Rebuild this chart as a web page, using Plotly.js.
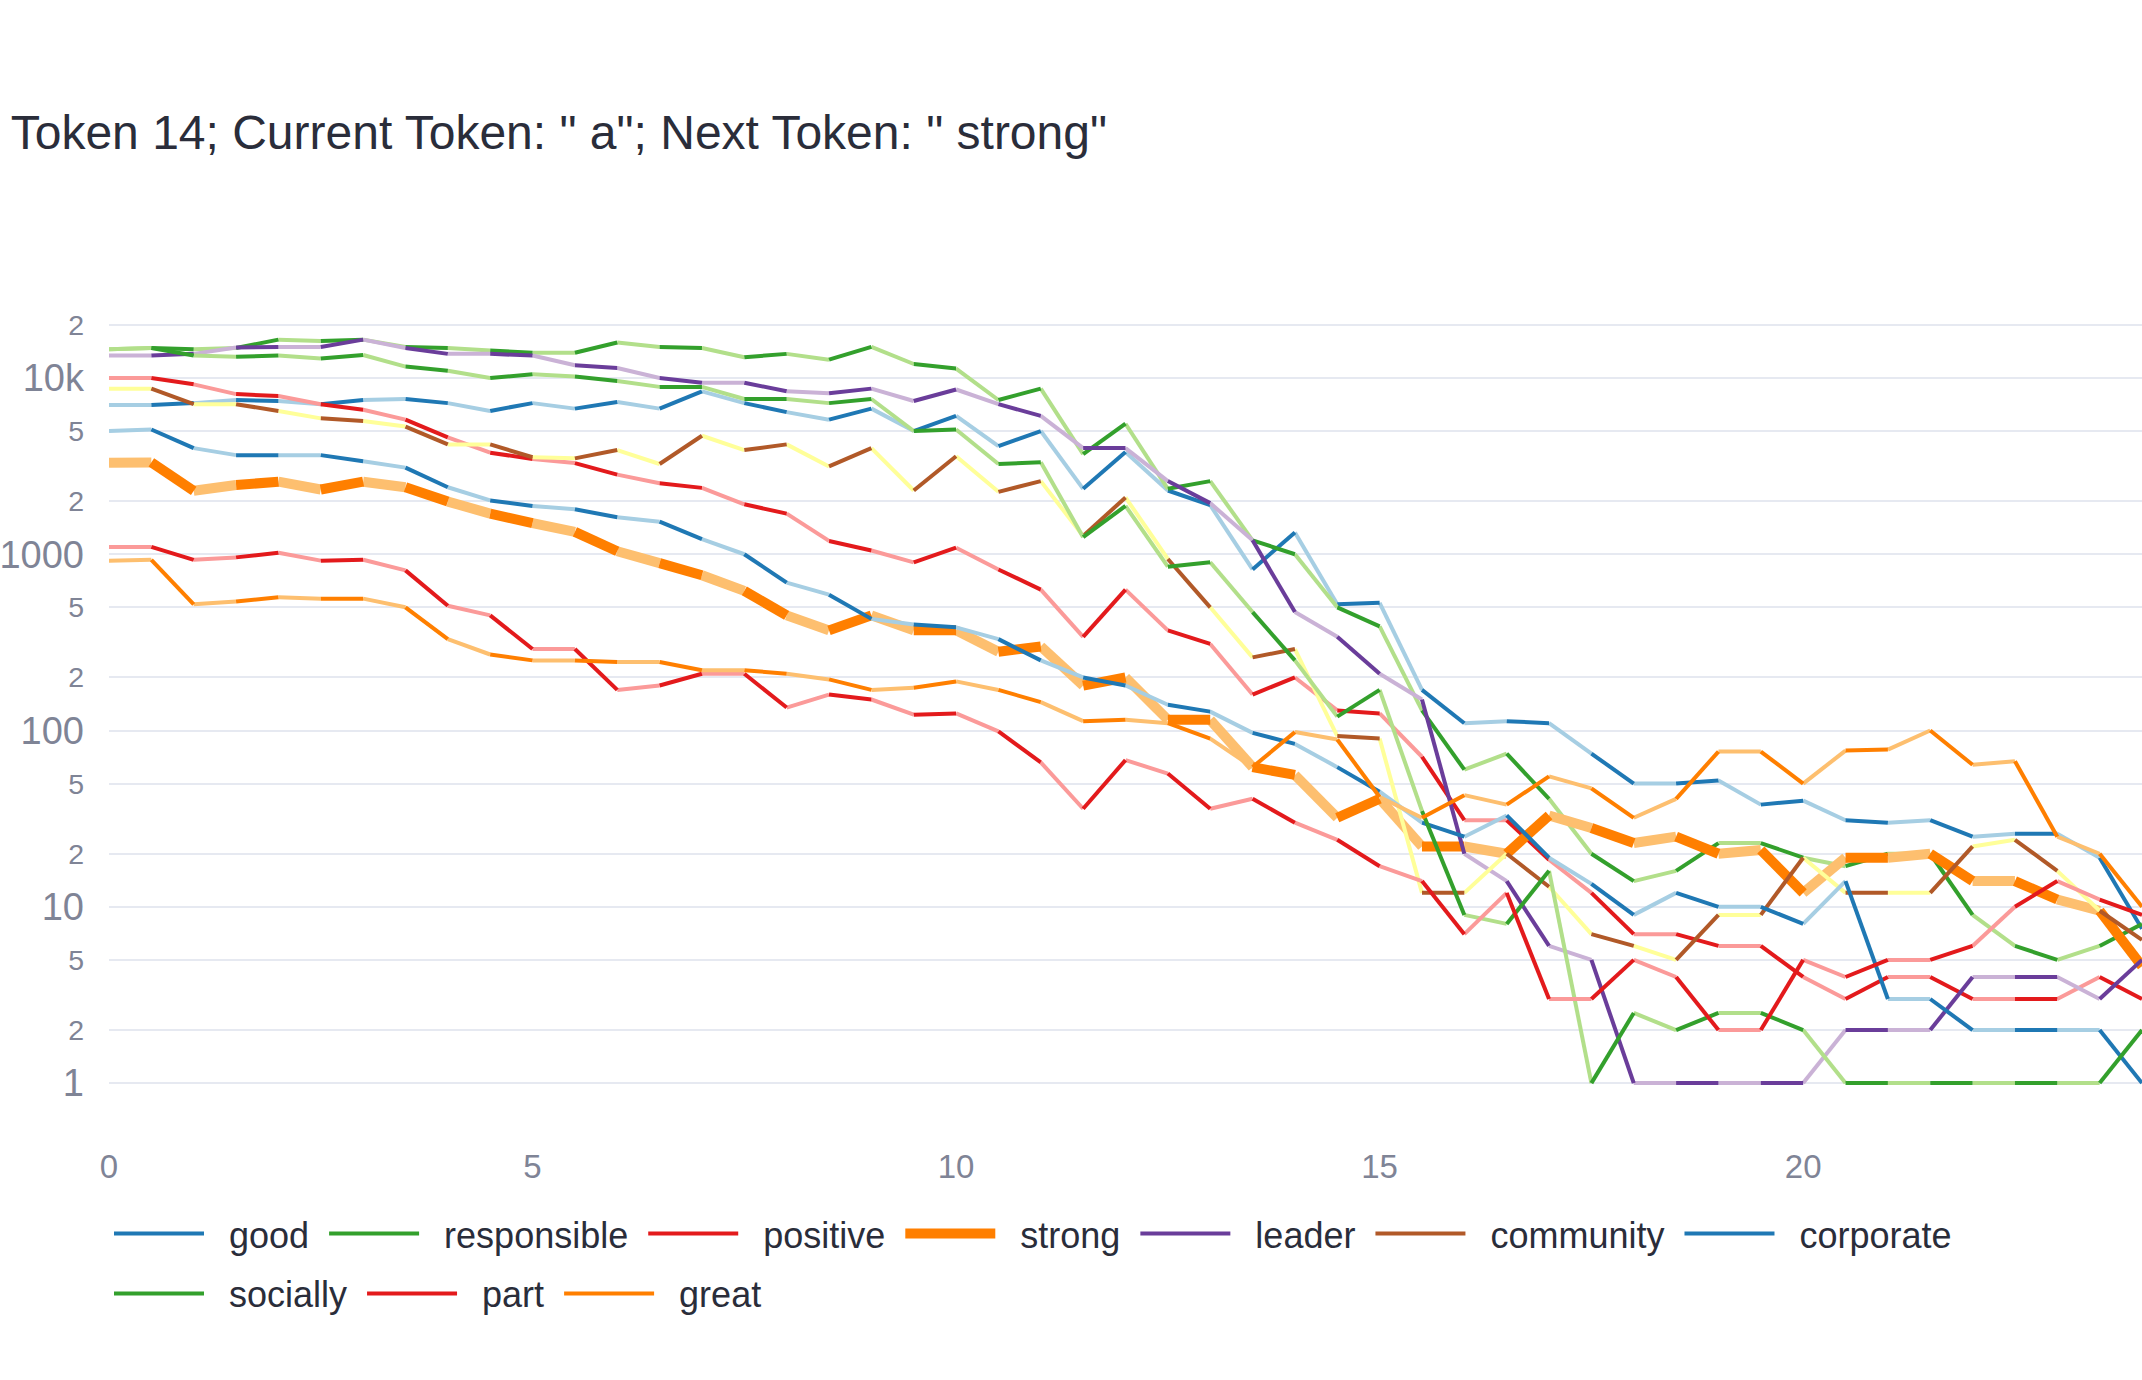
<!DOCTYPE html>
<html>
<head>
<meta charset="utf-8">
<script src="https://cdn.plot.ly/plotly-3.0.1.min.js"></script>
<style>body{margin:0;background:#fff}#chart{width:2142px;height:1380px}</style>
</head>
<body>
<div id="chart"></div>
<script>
// layer positions: 0, 0.5, 1, ... 24
const steps = Array.from({ length: 49 }, (_, i) => i / 2);

const tokens = ['good', 'responsible', 'positive', 'strong', 'leader', 'community', 'corporate', 'socially', 'part', 'great'];

const good = [7030, 7030, 7200, 7500, 7400, 7100, 7500, 7600, 7200, 6500, 7200, 6700, 7300, 6700, 8400, 7200, 6400, 5800, 6700, 5000, 6100, 4100, 5000, 2350,
  3800, 2300, 1900, 820, 1330, 520, 530, 170, 110, 113, 110, 74, 50, 50, 52, 38, 40, 31, 30, 31, 25, 26, 26, 19, 7.5];
const responsible = [14560, 14800, 14560, 14800, 16500, 16200, 16500, 15000, 14800, 14300, 13900, 13900, 15900, 15000, 14800, 13100, 13700, 12700, 15000, 12000, 11300, 7500, 8700, 3700,
  5500, 2350, 2600, 1200, 1000, 500, 390, 130, 60, 74, 41, 20, 14, 16, 23, 23, 19, 17, 20, 20, 9, 6, 5, 6, 8];
const positive = [10000, 10000, 9200, 8100, 7900, 7100, 6600, 5800, 4600, 3770, 3470, 3290, 2830, 2530, 2380, 1920, 1700, 1190, 1050, 900, 1090, 820, 630, 340,
  630, 370, 310, 160, 200, 130, 125, 71, 31, 31, 18.5, 12, 7, 7, 6, 6, 4, 3, 4, 4, 3, 3, 3, 4, 3];
const strong = [3300, 3320, 2290, 2470, 2580, 2330, 2580, 2400, 1990, 1700, 1500, 1340, 1040, 890, 760, 620, 450, 370, 450, 370, 370, 280, 300, 180,
  200, 115, 115, 62, 56, 32, 41, 22, 22, 20, 33, 28, 23, 25, 20, 21, 12, 19, 19, 20, 14, 14, 11, 9.5, 4.6];
const leader = [13400, 13400, 13700, 14900, 15000, 15000, 16500, 14800, 13700, 13700, 13400, 11800, 11400, 10000, 9400, 9400, 8400, 8200, 8700, 7400, 8600, 7100, 6100, 4000,
  4000, 2600, 1950, 1200, 470, 340, 210, 150, 20, 14, 6, 5, 1, 1, 1, 1, 1, 2, 2, 2, 4, 4, 4, 3, 5];
const community = [8700, 8700, 7100, 7100, 6500, 5900, 5700, 5300, 4200, 4200, 3550, 3500, 3900, 3250, 4700, 3900, 4200, 3150, 4000, 2300, 3600, 2260, 2600, 1270,
  2100, 940, 500, 260, 290, 93, 90, 12, 12, 20, 13, 7, 6, 5, 9, 9, 19, 12, 12, 12, 22, 24, 16, 9.5, 6.5];
const corporate = [5000, 5100, 4000, 3650, 3650, 3650, 3370, 3100, 2400, 2020, 1880, 1800, 1620, 1530, 1220, 1000, 690, 590, 430, 400, 385, 330, 250, 200,
  180, 140, 128, 97, 84, 62, 45, 30, 25, 33, 19, 13.5, 9, 12, 10, 10, 8, 14, 3, 3, 2, 2, 2, 2, 1];
const socially = [14560, 14800, 13400, 13200, 13400, 12900, 13500, 11600, 11000, 10000, 10500, 10200, 9600, 8900, 8900, 7600, 7600, 7200, 7600, 5000, 5100, 3250, 3330, 1250,
  1880, 850, 900, 470, 250, 120, 170, 35, 9, 8, 16, 1, 2.5, 2, 2.5, 2.5, 2, 1, 1, 1, 1, 1, 1, 1, 2];
const part = [1100, 1100, 930, 960, 1020, 920, 930, 810, 510, 450, 290, 290, 170, 180, 210, 210, 135, 160, 150, 123, 125, 99, 66, 36,
  68, 57, 36, 41, 30, 24, 17, 14, 7, 12, 3, 3, 5, 4, 2, 2, 5, 4, 5, 5, 6, 10, 14, 11, 9];
const great = [920, 930, 520, 540, 570, 560, 560, 500, 330, 270, 250, 250, 245, 245, 220, 220, 210, 195, 170, 175, 190, 170, 145, 113,
  115, 110, 90, 62, 98, 89, 42, 32, 43, 38, 55, 47, 32, 41, 76, 76, 50, 77, 78, 100, 64, 67, 25, 20, 10];

const seriesValues = [good, responsible, positive, strong, leader, community, corporate, socially, part, great];

// Paired palette: [dark, light]
const colorPairs = [
  ['#1f78b4', '#a6cee3'], ['#33a02c', '#b2df8a'], ['#e31a1c', '#fb9a99'], ['#ff7f00', '#fdbf6f'], ['#6a3d9a', '#cab2d6'],
  ['#b15928', '#ffff99'], ['#1f78b4', '#a6cee3'], ['#33a02c', '#b2df8a'], ['#e31a1c', '#fb9a99'], ['#ff7f00', '#fdbf6f'],
];

// split a series into alternating segments: light for [i, i+.5], dark for [i+.5, i+1]
function segments(vals, offset) {
  const x = [], y = [];
  for (let i = offset; i + 1 < vals.length; i += 2) {
    x.push(steps[i], steps[i + 1], null);
    y.push(vals[i], vals[i + 1], null);
  }
  return { x, y };
}

const FONT = 'Liberation Sans, Arial, sans-serif';
const NB = '\u00a0';
const traces = [];
tokens.forEach((name, k) => {
  const w = name === 'strong' ? 10 : 4;
  const light = segments(seriesValues[k], 0);
  const dark = segments(seriesValues[k], 1);
  const label = NB + NB + name + NB;
  traces.push({
    x: light.x, y: light.y, type: 'scatter', mode: 'lines', name: label, legendgroup: name,
    showlegend: false, line: { color: colorPairs[k][1], width: w }, connectgaps: false,
  });
  traces.push({
    x: dark.x, y: dark.y, type: 'scatter', mode: 'lines', name: label, legendgroup: name,
    line: { color: colorPairs[k][0], width: w }, connectgaps: false,
  });
});

Plotly.newPlot('chart', traces, {
  width: 2142, height: 1380,
  paper_bgcolor: '#fff', plot_bgcolor: '#fff',
  font: { family: FONT, size: 33, color: '#2a2d3a' },
  title: {
    text: 'Token 14; Current Token: " a"; Next Token: " strong"',
    x: 0.005, xanchor: 'left', xref: 'container', y: 0.904, yanchor: 'middle',
    font: { size: 48, color: '#2a2d3a' },
  },
  margin: { l: 109, r: 0, t: 290, b: 244 },
  xaxis: {
    range: [0, 24], dtick: 5, showgrid: false, zeroline: false, showline: false,
    tickfont: { size: 33, color: '#7f8496' }, ticklabelstandoff: 8,
  },
  yaxis: {
    type: 'log', range: [-0.3, 4.499], dtick: 'D2', gridcolor: '#e6e9f1', gridwidth: 2,
    zeroline: false, showline: false, tickfont: { size: 38, color: '#7f8496' },
    ticklabelstandoff: 24,
  },
  legend: {
    orientation: 'h', x: 0, xanchor: 'left', y: -0.08, yanchor: 'top',
    font: { size: 36, color: '#2a2d3a' }, itemwidth: 90,
  },
  showlegend: true,
}, { displayModeBar: false });
</script>
</body>
</html>
